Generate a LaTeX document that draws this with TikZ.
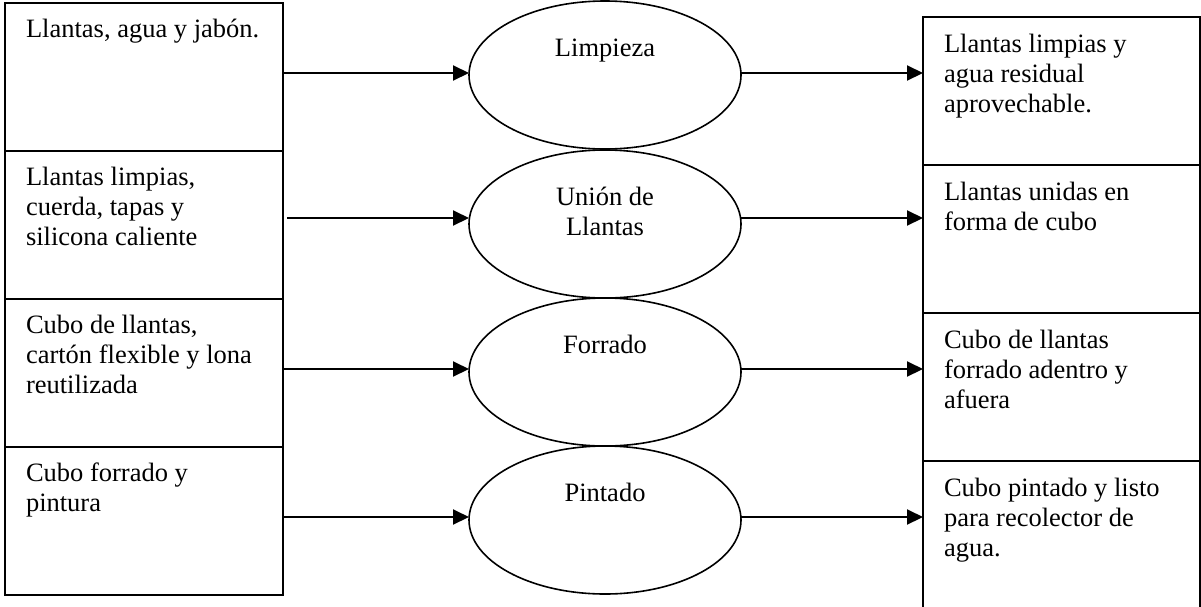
\documentclass[tikz,border=0pt]{standalone}
\usepackage{fontspec}
\setmainfont{Liberation Serif}
\usetikzlibrary{shapes.geometric,arrows.meta}
\begin{document}
\begin{tikzpicture}[x=1pt,y=-1pt,
  inbox/.style={draw, line width=2pt, rectangle, minimum width=278pt,
    minimum height=148pt, inner sep=0pt, outer sep=0pt},
  outbox/.style={inbox, minimum width=277pt},
  proc/.style={draw, line width=1.6pt, ellipse, minimum width=272pt,
    minimum height=148pt, inner sep=0pt, outer sep=0pt},
  txt/.style={inner sep=0pt, outer sep=0pt,
    font=\fontsize{26.5}{30}\selectfont, align=left},
  ctxt/.style={txt, align=center},
  flow/.style={line width=2pt, -{Triangle[length=16pt,width=15pt]}}
]
\clip (0,0) rectangle (1201,606);
\fill[white] (0,0) rectangle (1201,606);

% inputs
\node[inbox] (in1) at (144,77) {};
\node[inbox] (in2) at (144,225) {};
\node[inbox] (in3) at (144,373) {};
\node[inbox] (in4) at (144,521) {};

% processes
\node[proc] (p1) at (605,75) {};
\node[proc] (p2) at (605,224) {};
\node[proc] (p3) at (605,372) {};
\node[proc] (p4) at (605,520) {};

% outputs
\node[outbox] (out1) at (1061.5,91) {};
\node[outbox] (out2) at (1061.5,239) {};
\node[outbox] (out3) at (1061.5,387) {};
\node[outbox] (out4) at (1061.5,535) {};

% input texts
\node[txt, anchor=north west] (tin1) at ([xshift=21pt,yshift=-13pt]in1.north west)
  {\strut Llantas, agua y jabón.};
\node[txt, anchor=north west] (tin2) at ([xshift=21pt,yshift=-13pt]in2.north west)
  {\strut Llantas limpias,\\cuerda, tapas y\\silicona caliente};
\node[txt, anchor=north west] (tin3) at ([xshift=21pt,yshift=-13pt]in3.north west)
  {\strut Cubo de llantas,\\cartón flexible y lona\\reutilizada};
\node[txt, anchor=north west] (tin4) at ([xshift=21pt,yshift=-13pt]in4.north west)
  {\strut Cubo forrado y\\pintura};

% process texts
\node[ctxt, anchor=north] (tp1) at ([yshift=-34pt]p1.north) {\strut Limpieza};
\node[ctxt, anchor=north] (tp2) at ([yshift=-34pt]p2.north) {\strut Unión de\\Llantas};
\node[ctxt, anchor=north] (tp3) at ([yshift=-34pt]p3.north) {\strut Forrado};
\node[ctxt, anchor=north] (tp4) at ([yshift=-34pt]p4.north) {\strut Pintado};

% output texts
\node[txt, anchor=north west] (tout1) at ([xshift=21pt,yshift=-14pt]out1.north west)
  {\strut Llantas limpias y\\agua residual\\aprovechable.};
\node[txt, anchor=north west] (tout2) at ([xshift=21pt,yshift=-14pt]out2.north west)
  {\strut Llantas unidas en\\forma de cubo};
\node[txt, anchor=north west] (tout3) at ([xshift=21pt,yshift=-14pt]out3.north west)
  {\strut Cubo de llantas\\forrado adentro y\\afuera};
\node[txt, anchor=north west] (tout4) at ([xshift=21pt,yshift=-14pt]out4.north west)
  {\strut Cubo pintado y listo\\para recolector de\\agua.};

% connector levels
\coordinate (r1) at (0,73);
\coordinate (r2) at (0,218);
\coordinate (r3) at (0,369);
\coordinate (r4) at (0,517);
\coordinate (s2) at (287,218);

\draw[flow] (in1.east |- r1) -- (p1.west |- r1);
\draw[flow] (s2) -- (p2.west |- r2);
\draw[flow] (in3.east |- r3) -- (p3.west |- r3);
\draw[flow] (in4.east |- r4) -- (p4.west |- r4);

\draw[flow] (p1.east |- r1) -- (out1.west |- r1);
\draw[flow] (p2.east |- r2) -- (out2.west |- r2);
\draw[flow] (p3.east |- r3) -- (out3.west |- r3);
\draw[flow] (p4.east |- r4) -- (out4.west |- r4);
\end{tikzpicture}
\end{document}
